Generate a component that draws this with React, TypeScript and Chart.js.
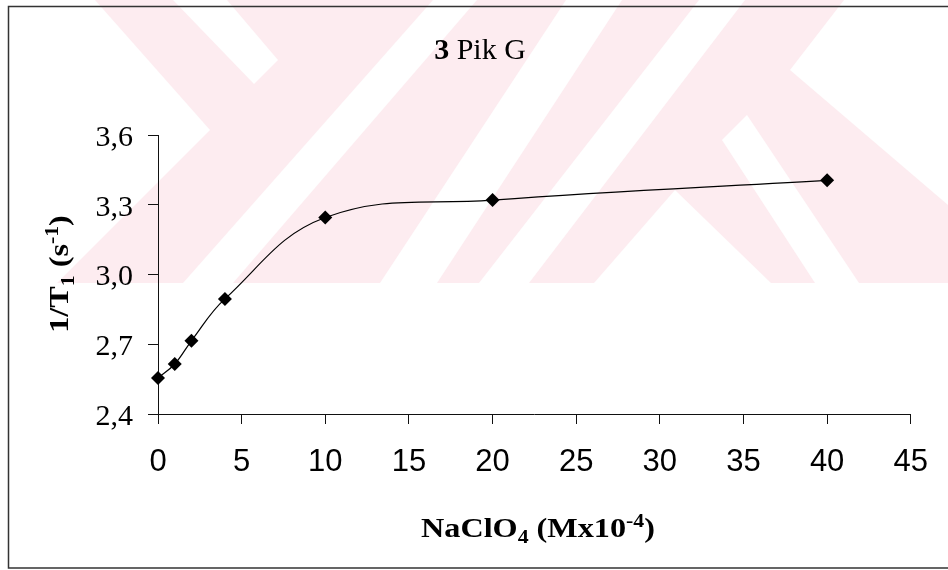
import { useEffect, useRef } from 'react';
import { Chart, registerables } from 'chart.js';

Chart.register(...registerables);

// ---- data ----
const concentrations = [0, 1, 2, 4, 10, 20, 40];
const relaxationRates = [2.555, 2.615, 2.715, 2.895, 3.245, 3.32, 3.405];
const xTickValues = [0, 5, 10, 15, 20, 25, 30, 35, 40, 45];
const yTickValues = [2.4, 2.7, 3.0, 3.3, 3.6];
const titleBold = '3';
const titleRest = ' Pik G';
const xTitleParts: [string, string][] = [['NaClO', 'n'], ['4', 'sub'], [' (Mx10', 'n'], ['-4', 'sup'], [')', 'n']];
const yTitleParts: [string, string][] = [['1/T', 'n'], ['1', 'sub'], [' (s', 'n'], ['-1', 'sup'], [')', 'n']];

const W = 948;
const H = 570;
const SERIF = '"Liberation Serif", "Times New Roman", serif';
const SANS = '"Liberation Sans", Arial, sans-serif';

function drawRich(ctx: CanvasRenderingContext2D, parts: [string, string][], cx: number, baseline: number, size: number, stretch: number) {
  const small = Math.round(size * 0.68);
  const fontFor = (k: string) => `bold ${k === 'n' ? size : small}px ${SERIF}`;
  let total = 0;
  const widths = parts.map(([t, k]) => {
    ctx.font = fontFor(k);
    const w = ctx.measureText(t).width;
    total += w;
    return w;
  });
  ctx.save();
  ctx.translate(cx, baseline);
  ctx.scale(stretch, 1);
  let x = -total / 2;
  ctx.textBaseline = 'alphabetic';
  ctx.textAlign = 'left';
  parts.forEach(([t, k], i) => {
    ctx.font = fontFor(k);
    const dy = k === 'sub' ? size * 0.2 : k === 'sup' ? -size * 0.36 : 0;
    ctx.fillText(t, x, dy);
    x += widths[i];
  });
  ctx.restore();
}

const decorPlugin = {
  id: 'decor',
  beforeDraw(chart: any) {
    const ctx: CanvasRenderingContext2D = chart.ctx;
    ctx.save();
    ctx.fillStyle = '#ffffff';
    ctx.fillRect(0, 0, W, H);
    // faint watermark band
    ctx.beginPath();
    ctx.rect(0, 0, W, 283);
    ctx.clip();
    ctx.fillStyle = 'rgb(253,236,240)';
    ctx.fillRect(0, 0, W, 283);
    ctx.fillStyle = '#ffffff';
    const shapes = [
      [[0, 0], [95, 0], [210, 130], [57, 283], [0, 283]],
      [[173, 0], [227, 0], [278, 60], [254, 84]],
      [[183, 283], [233, 283], [477, 0], [433, 0]],
      [[380, 283], [437, 283], [622, 0], [566, 0]],
      [[479, 283], [529, 283], [745, 0], [699, 0]],
      [[722, 140], [747, 115], [859, 283], [815, 283]],
      [[790, 70], [844, 0], [948, 0], [948, 205]],
      [[594, 283], [675, 190], [771, 283]],
    ];
    shapes.forEach((pts) => {
      ctx.beginPath();
      pts.forEach(([x, y], i) => (i === 0 ? ctx.moveTo(x, y) : ctx.lineTo(x, y)));
      ctx.closePath();
      ctx.fill();
    });
    ctx.restore();
  },
  afterDraw(chart: any) {
    const ctx: CanvasRenderingContext2D = chart.ctx;
    ctx.save();
    // frame
    ctx.strokeStyle = '#333';
    ctx.lineWidth = 1.5;
    ctx.beginPath();
    ctx.moveTo(W, 6.5);
    ctx.lineTo(8.5, 6.5);
    ctx.lineTo(8.5, 568);
    ctx.lineTo(W, 568);
    ctx.stroke();

    ctx.fillStyle = '#000';
    // title
    ctx.textBaseline = 'alphabetic';
    ctx.textAlign = 'left';
    ctx.font = `bold 30px ${SERIF}`;
    const wb = ctx.measureText(titleBold).width;
    ctx.font = `30px ${SERIF}`;
    const wr = ctx.measureText(titleRest).width;
    const tx = 480 - (wb + wr) / 2;
    ctx.font = `bold 30px ${SERIF}`;
    ctx.fillText(titleBold, tx, 59);
    ctx.font = `30px ${SERIF}`;
    ctx.fillText(titleRest, tx + wb, 59);

    // x axis title
    drawRich(ctx, xTitleParts, 538, 537, 28, 1.15);

    // y axis title
    ctx.save();
    ctx.translate(68, 274);
    ctx.rotate(-Math.PI / 2);
    drawRich(ctx, yTitleParts, 0, 0, 28, 1.15);
    ctx.restore();
    ctx.restore();
  },
};

export default function App() {
  const ref = useRef<HTMLCanvasElement | null>(null);
  useEffect(() => {
    document.body.style.margin = '0';
    const canvas = ref.current!;
    const chart = new Chart(canvas, {
      type: 'line',
      data: {
        datasets: [
          {
            data: concentrations.map((x, i) => ({ x, y: relaxationRates[i] })),
            borderColor: '#000',
            borderWidth: 1.2,
            backgroundColor: '#000',
            pointStyle: 'rectRot',
            pointRadius: 7,
            pointBackgroundColor: '#000',
            pointBorderColor: '#000',
            pointBorderWidth: 0,
            tension: 0.4,
            clip: false as any,
            fill: false,
          },
        ],
      },
      options: {
        animation: false,
        responsive: false,
        devicePixelRatio: 1,
        events: [],
        layout: { padding: { top: 135, right: 31, bottom: 96, left: 0 } },
        plugins: { legend: { display: false }, title: { display: false }, tooltip: { enabled: false } },
        scales: {
          x: {
            type: 'linear',
            min: 0,
            max: 45,
            afterBuildTicks: (s: any) => {
              s.ticks = xTickValues.map((v) => ({ value: v }));
            },
            afterFit: (s: any) => {
              s.height = 60;
            },
            ticks: {
              autoSkip: false,
              maxRotation: 0,
              padding: 20,
              color: '#000',
              font: { family: SANS, size: 31 },
              callback: (v: any) => String(v),
            },
            grid: { display: true, drawOnChartArea: false, drawTicks: true, tickLength: 10, tickColor: '#111', tickWidth: 1 },
            border: { display: true, color: '#111', width: 1 },
          },
          y: {
            type: 'linear',
            min: 2.4,
            max: 3.6,
            afterBuildTicks: (s: any) => {
              s.ticks = yTickValues.map((v) => ({ value: v }));
            },
            afterFit: (s: any) => {
              s.width = 158;
            },
            ticks: {
              autoSkip: false,
              padding: 15,
              labelOffset: 3,
              color: '#000',
              font: { family: SERIF, size: 30 },
              callback: (v: any) => Number(v).toFixed(1).replace('.', ','),
            },
            grid: { display: true, drawOnChartArea: false, drawTicks: true, tickLength: 10, tickColor: '#111', tickWidth: 1 },
            border: { display: true, color: '#111', width: 1 },
          },
        },
      },
      plugins: [decorPlugin],
    });
    return () => chart.destroy();
  }, []);
  return <canvas ref={ref} width={W} height={H} style={{ display: 'block', width: W, height: H }} />;
}
